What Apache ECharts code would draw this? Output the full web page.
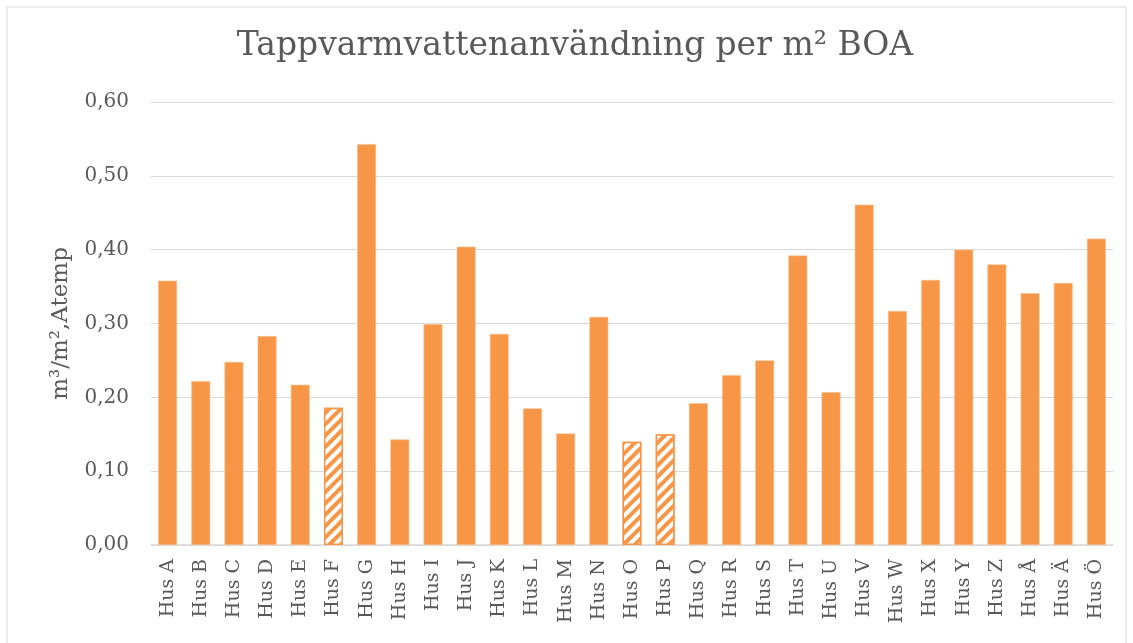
<!DOCTYPE html>
<html>
<head>
<meta charset="utf-8">
<script src="https://cdn.jsdelivr.net/npm/echarts@6/dist/echarts.min.js"></script>
<style>
	html, body { margin: 0; padding: 0; background: #fff; }
	#chart { width: 1133px; height: 643px; }
</style>
</head>
<body>
<div id="chart"></div>
<script>
var houses = ['Hus A', 'Hus B', 'Hus C', 'Hus D', 'Hus E', 'Hus F', 'Hus G', 'Hus H', 'Hus I', 'Hus J',
	'Hus K', 'Hus L', 'Hus M', 'Hus N', 'Hus O', 'Hus P', 'Hus Q', 'Hus R', 'Hus S', 'Hus T',
	'Hus U', 'Hus V', 'Hus W', 'Hus X', 'Hus Y', 'Hus Z', 'Hus Å', 'Hus Ä', 'Hus Ö'];
var usage = [0.358, 0.222, 0.248, 0.283, 0.217, 0.186, 0.543, 0.143, 0.299, 0.404,
	0.286, 0.185, 0.151, 0.309, 0.140, 0.150, 0.192, 0.230, 0.250, 0.392,
	0.207, 0.461, 0.317, 0.359, 0.400, 0.380, 0.341, 0.355, 0.415];
var hatched = ['Hus F', 'Hus O', 'Hus P'];
var yTicks = [0, 0.1, 0.2, 0.3, 0.4, 0.5, 0.6];

var orange = '#F79646';
var textColor = '#595959';
var font = 'DejaVu Serif';

var barData = [];
for (var i = 0; i < usage.length; i++) {
	if (hatched.indexOf(houses[i]) >= 0) {
		barData.push({
			value: usage[i],
			itemStyle: {
				color: '#ffffff',
				borderColor: orange,
				borderWidth: 1.5,
				decal: {
					symbol: 'rect',
					color: orange,
					backgroundColor: '#ffffff',
					dashArrayX: [1, 0],
					dashArrayY: [4, 4],
					rotation: -Math.PI / 4
				}
			}
		});
	} else {
		barData.push(usage[i]);
	}
}

var myChart = echarts.init(document.getElementById('chart'));
myChart.setOption({
	animation: false,
	textStyle: { fontFamily: font },
	title: {
		text: 'Tappvarmvattenanvändning per m² BOA',
		left: 570,
		textAlign: 'center',
		top: 25,
		textStyle: {
			fontFamily: font,
			fontSize: 33,
			fontWeight: 'normal',
			color: textColor
		}
	},
	graphic: [{
		type: 'rect',
		shape: { x: 7, y: 7, width: 1119, height: 645 },
		style: { fill: 'none', stroke: '#d9d9d9', lineWidth: 1 },
		silent: true
	}],
	grid: {
		left: 151,
		right: 20,
		top: 102,
		bottom: 98
	},
	xAxis: {
		type: 'category',
		data: houses,
		axisLine: { lineStyle: { color: '#d9d9d9', width: 1.5 } },
		axisTick: { show: false },
		axisLabel: {
			rotate: 90,
			interval: 0,
			margin: 14,
			fontSize: 19,
			color: textColor,
			fontFamily: font
		}
	},
	yAxis: {
		type: 'value',
		min: yTicks[0],
		max: yTicks[yTicks.length - 1],
		interval: 0.1,
		name: 'm³/m²,Atemp',
		nameLocation: 'middle',
		nameGap: 78,
		nameTextStyle: {
			fontSize: 23,
			color: textColor,
			fontFamily: font
		},
		axisLine: { show: false },
		axisTick: { show: false },
		splitLine: { lineStyle: { color: '#d9d9d9', width: 1 } },
		axisLabel: {
			margin: 22,
			fontSize: 20,
			color: textColor,
			fontFamily: font,
			formatter: function(v) {
				return v.toFixed(2).replace('.', ',');
			}
		}
	},
	series: [{
		type: 'bar',
		data: barData,
		barWidth: '57%',
		itemStyle: {
			color: orange,
			borderColor: '#fbbf8f',
			borderWidth: 0.6
		}
	}]
});
</script>
</body>
</html>
